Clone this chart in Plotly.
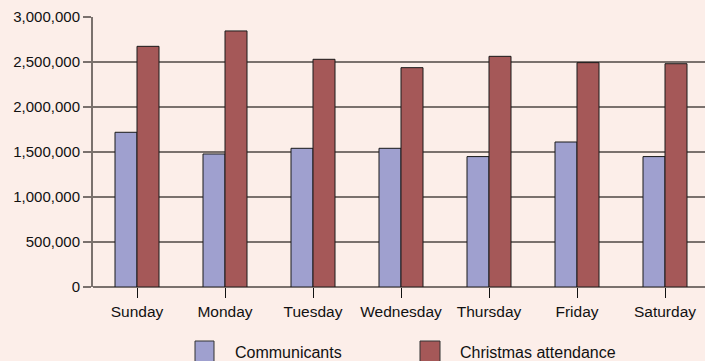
import plotly.graph_objects as go

days = ["Sunday", "Monday", "Tuesday", "Wednesday", "Thursday", "Friday", "Saturday"]
communicants = [1719000, 1478000, 1541000, 1541000, 1449000, 1611000, 1449000]
christmas = [2674000, 2845000, 2530000, 2437000, 2563000, 2493000, 2481000]
series_names = ["Communicants", "Christmas attendance"]
colors = ["#9FA0CF", "#A55858"]
y_ticks = [0, 500000, 1000000, 1500000, 2000000, 2500000, 3000000]

W, H = 705, 361
L, R, T, B = 93, 0, 17, 74
pw, ph = W - L - R, H - T - B

fig = go.Figure()
for name, vals, c in zip(series_names, [communicants, christmas], colors):
    fig.add_trace(go.Bar(x=list(range(len(days))), y=vals, name=name,
                         marker=dict(color=c, line=dict(color="#1a1a1a", width=1)),
                         showlegend=False))

bg = "#FCEEE9"
grid = "#7A716D"
fig.update_layout(
    width=W, height=H, margin=dict(l=L, r=R, t=T, b=B),
    paper_bgcolor=bg, plot_bgcolor=bg,
    barmode="group", bargap=0.5, bargroupgap=0,
    font=dict(family="Liberation Sans, Arial, sans-serif", size=16, color="#111111"),
    xaxis=dict(range=[-0.5, -0.5 + pw / 88.0], tickvals=list(range(len(days))), ticktext=days,
               ticks="outside", ticklen=10, tickcolor="#111111", tickwidth=1,
               tickfont=dict(size=15.5),
               showgrid=False, showline=False, zeroline=False, fixedrange=True),
    yaxis=dict(range=[0, 3000000], tickvals=y_ticks,
               ticktext=[f"{v:,}" for v in y_ticks],
               tickfont=dict(size=15),
               ticks="outside", ticklen=8, tickcolor=grid, tickwidth=2,
               showgrid=True, gridcolor=grid, gridwidth=2,
               showline=True, linecolor=grid, linewidth=2,
               zeroline=True, zerolinecolor=grid, zerolinewidth=2),
)

def px_x(p):
    return (p - L) / pw

def px_y(p):
    return (H - B - p) / ph

legend_items = [(195, 214, 233), (420, 440, 458)]
for (x0, x1, tx), name, c in zip(legend_items, series_names, colors):
    fig.add_shape(type="rect", xref="paper", yref="paper",
                  x0=px_x(x0), x1=px_x(x1), y0=px_y(341), y1=px_y(362),
                  fillcolor=c, line=dict(color="#333333", width=1))
    fig.add_annotation(xref="paper", yref="paper", x=px_x(tx), y=px_y(352),
                       text=name, showarrow=False, xanchor="left", yanchor="middle",
                       font=dict(size=16, color="#111111"))

fig.write_html("out.html")
